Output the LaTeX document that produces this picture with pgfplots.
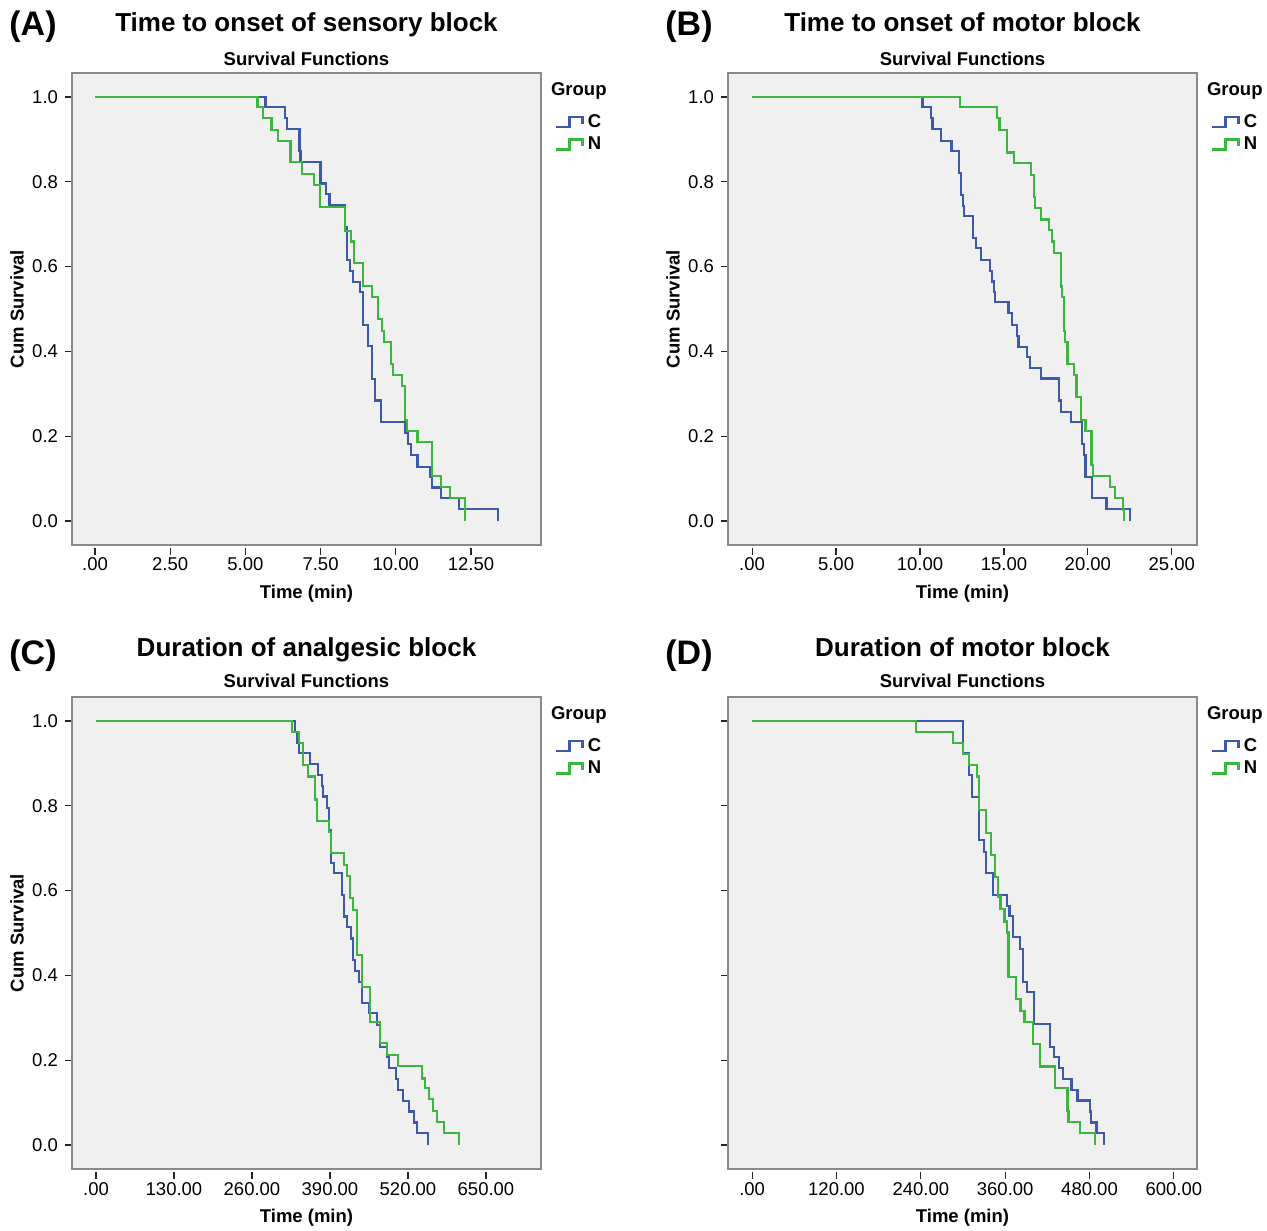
\documentclass[border=0pt]{standalone}
\usepackage{fontspec}
\setmainfont{Liberation Sans}
\usepackage{pgfplots}
\pgfplotsset{compat=1.18}

\definecolor{cBlue}{HTML}{3E58AC}
\definecolor{cGreen}{HTML}{3DB63D}
\definecolor{bgCol}{HTML}{F0F0F0}
\definecolor{frameCol}{HTML}{8A8A8A}

\newcommand\tickfont{\fontsize{9.25}{11}\selectfont}
\newcommand\labfont{\fontsize{9.25}{11}\selectfont\bfseries}
\newcommand\titlefont{\fontsize{13}{15}\selectfont\bfseries}
\newcommand\panelfont{\fontsize{17}{19}\selectfont\bfseries}

% one SPSS-like survival panel
\pgfplotsset{
    km/.style={
        scale only axis, width=234.5pt, height=236pt, anchor=north west,
        clip=false,
        axis background/.style={fill=bgCol},
        axis line style={draw=frameCol, line width=0.8pt},
        ymin=-0.0566, ymax=1.0566,
        ytick={0,0.2,0.4,0.6,0.8,1},
        yticklabels={0.0,0.2,0.4,0.6,0.8,1.0},
        tick align=outside, xtick pos=bottom, ytick pos=left,
        major tick length=3.5pt,
        tick style={black!85, line width=0.6pt},
        xtick style={yshift=-1.5pt},
        tick label style={font=\tickfont},
        xticklabel style={yshift=0.5pt},
        label style={font=\labfont},
        xlabel={Time (min)},
        xlabel style={at={(rel axis cs:0.5,0)}, anchor=center, yshift=-24.5pt},
        ylabel style={at={(rel axis cs:0,0.5)}, anchor=center, yshift=27.5pt},
        legend style={at={(1,1)}, anchor=north west, xshift=3.5pt, yshift=-18pt,
            draw=none, fill=none, font=\labfont, row sep=2pt, column sep=1.5pt,
            nodes={inner sep=0.6pt}},
        legend cell align=left,
        legend image code/.code={
            \draw[#1] (0pt,-2.4pt) -- (7pt,-2.4pt) -- (7pt,2.6pt) -- (13.5pt,2.6pt) -- (13.5pt,-0.8pt);
        },
        every axis plot/.append style={const plot, line width=1.1pt, mark=none},
    },
    cplot/.style={draw=cBlue},
    nplot/.style={draw=cGreen},
}
\tikzset{
    ttl/.style={font=\titlefont, anchor=base},
    sub/.style={font=\labfont, anchor=base},
    grp/.style={font=\labfont, anchor=west, xshift=1.5pt, yshift=-9pt},
}

\begin{document}
\begin{tikzpicture}
\useasboundingbox (0,0) rectangle (633.5pt,-615pt);

% (A) onset of sensory block
\begin{axis}[km, at={(36pt,-36.5pt)},
    xmin=-0.765, xmax=14.83,
    xtick={0,2.5,5,7.5,10,12.5},
    xticklabels={.00,2.50,5.00,7.50,10.00,12.50},
    ylabel={Cum Survival}]
\addplot[cplot] coordinates {
(0,1)(5.67,0.976)(6.32,0.950)(6.39,0.924)(6.80,0.873)(6.83,0.847)(7.50,0.796)
(7.69,0.771)(7.80,0.744)(8.31,0.694)(8.39,0.616)(8.48,0.590)(8.59,0.564)
(8.80,0.541)(8.91,0.462)(9.09,0.413)(9.22,0.334)(9.31,0.284)(9.52,0.233)
(10.30,0.207)(10.41,0.181)(10.52,0.156)(10.72,0.128)(11.13,0.104)(11.21,0.079)
(11.51,0.054)(12.10,0.028)(13.41,0)};
\addlegendentry{C}
\addplot[nplot] coordinates {
(0,1)(5.40,0.976)(5.59,0.950)(5.87,0.922)(6.09,0.897)(6.50,0.846)(6.89,0.819)
(7.28,0.792)(7.48,0.741)(8.31,0.684)(8.50,0.659)(8.61,0.608)(8.91,0.554)
(9.20,0.528)(9.42,0.476)(9.53,0.449)(9.61,0.423)(9.83,0.370)(9.91,0.344)
(10.22,0.318)(10.31,0.238)(10.38,0.213)(10.72,0.187)(11.21,0.107)(11.51,0.081)
(11.80,0.055)(12.30,0)};
\addlegendentry{N}
\node[grp] at (rel axis cs:1,1) {Group};
\node[ttl] at (rel axis cs:0.5,1) [yshift=20.5pt] {Time to onset of sensory block};
\node[sub] at (rel axis cs:0.5,1) [yshift=3.7pt] {Survival Functions};
\node[font=\panelfont] at (rel axis cs:0,1) [xshift=-19.5pt, yshift=23pt] {(A)};
\end{axis}

% (B) onset of motor block
\begin{axis}[km, at={(364pt,-36.5pt)},
    xmin=-1.435, xmax=26.5,
    xtick={0,5,10,15,20,25},
    xticklabels={.00,5.00,10.00,15.00,20.00,25.00},
    ylabel={Cum Survival}]
\addplot[cplot] coordinates {
(0,1)(10.15,0.976)(10.65,0.950)(10.75,0.924)(11.24,0.897)(11.88,0.873)
(12.34,0.820)(12.44,0.769)(12.54,0.743)(12.64,0.719)(13.14,0.668)(13.34,0.643)
(13.64,0.616)(14.19,0.590)(14.27,0.565)(14.39,0.540)(14.47,0.516)(15.27,0.490)
(15.47,0.463)(15.79,0.436)(15.87,0.411)(16.39,0.386)(16.53,0.360)(17.19,0.336)
(18.26,0.284)(18.38,0.258)(18.98,0.233)(19.66,0.182)(19.78,0.156)(19.86,0.103)
(20.26,0.054)(21.11,0.028)(22.51,0)};
\addlegendentry{C}
\addplot[nplot] coordinates {
(0,1)(12.40,0.976)(14.59,0.950)(14.73,0.922)(15.19,0.869)(15.59,0.844)
(16.59,0.816)(16.79,0.765)(16.87,0.739)(17.22,0.711)(17.66,0.686)(17.86,0.659)
(17.98,0.633)(18.38,0.553)(18.48,0.528)(18.58,0.449)(18.66,0.423)(18.78,0.370)
(19.18,0.344)(19.32,0.292)(19.58,0.238)(19.86,0.213)(20.22,0.132)(20.32,0.106)
(21.31,0.081)(21.61,0.055)(22.11,0.026)(22.17,0)};
\addlegendentry{N}
\node[grp] at (rel axis cs:1,1) {Group};
\node[ttl] at (rel axis cs:0.5,1) [yshift=20.5pt] {Time to onset of motor block};
\node[sub] at (rel axis cs:0.5,1) [yshift=3.7pt] {Survival Functions};
\node[font=\panelfont] at (rel axis cs:0,1) [xshift=-19.5pt, yshift=23pt] {(B)};
\end{axis}

% (C) duration of analgesic block
\begin{axis}[km, at={(36pt,-348.5pt)},
    xmin=-40, xmax=741.7,
    xtick={0,130,260,390,520,650},
    xticklabels={.00,130.00,260.00,390.00,520.00,650.00},
    ylabel={Cum Survival}]
\addplot[cplot] coordinates {
(0,1)(331.7,0.975)(335,0.949)(338,0.924)(356.7,0.899)(370.6,0.873)(376.1,0.847)
(378.9,0.822)(385.6,0.794)(388.9,0.743)(391.1,0.666)(396.7,0.642)(409.4,0.590)
(413.3,0.539)(418.9,0.515)(424.4,0.487)(427.8,0.436)(431.7,0.411)(438.9,0.385)
(442.8,0.334)(455.6,0.311)(468.9,0.283)(473.3,0.232)(484.4,0.207)(488.9,0.181)
(500,0.155)(503.9,0.130)(512.2,0.104)(522.2,0.079)(530,0.053)(534.4,0.028)
(552.8,0)};
\addlegendentry{C}
\addplot[nplot] coordinates {
(0,1)(326.1,0.975)(338.9,0.949)(344.4,0.896)(353.9,0.869)(365,0.815)
(367.8,0.765)(388.9,0.739)(391.1,0.688)(413.3,0.660)(418.9,0.634)(423.3,0.582)
(427.8,0.554)(435.6,0.448)(443,0.372)(456.7,0.291)(473.3,0.240)(484.4,0.212)
(503.9,0.186)(542.8,0.157)(548.3,0.134)(555.6,0.108)(561.1,0.081)(567.8,0.055)
(580,0.028)(605.6,0)};
\addlegendentry{N}
\node[grp] at (rel axis cs:1,1) {Group};
\node[ttl] at (rel axis cs:0.5,1) [yshift=20.5pt] {Duration of analgesic block};
\node[sub] at (rel axis cs:0.5,1) [yshift=5pt] {Survival Functions};
\node[font=\panelfont] at (rel axis cs:0,1) [xshift=-19.5pt, yshift=20.5pt] {(C)};
\end{axis}

% (D) duration of motor block
\begin{axis}[km, at={(364pt,-348.5pt)},
    xmin=-34.3, xmax=632.9,
    xtick={0,120,240,360,480,600},
    xticklabels={.00,120.00,240.00,360.00,480.00,600.00},
    yticklabels={}]
\addplot[cplot] coordinates {
(0,1)(299.5,0.924)(309,0.873)(312.9,0.820)(323.3,0.719)(329.5,0.692)
(332.9,0.642)(342.4,0.590)(362.9,0.564)(366.2,0.540)(371,0.490)(381.4,0.462)
(385.2,0.385)(391.4,0.360)(400.9,0.285)(423.3,0.232)(429.5,0.207)(436.2,0.181)
(442.4,0.155)(454.3,0.130)(462.9,0.105)(480.5,0.079)(481.9,0.053)(490,0.028)
(500.5,0)};
\addlegendentry{C}
\addplot[nplot] coordinates {
(0,1)(232.9,0.975)(285.2,0.949)(299.5,0.922)(309,0.896)(320,0.869)(323.3,0.790)
(332.9,0.736)(340,0.684)(345.7,0.633)(349.5,0.586)(353.3,0.556)(359,0.527)
(362.9,0.501)(364.8,0.397)(375.7,0.344)(381.9,0.317)(387.6,0.291)(399.5,0.239)
(409,0.185)(431.4,0.134)(448.6,0.081)(450,0.055)(466.2,0.028)(487.6,0)};
\addlegendentry{N}
\node[grp] at (rel axis cs:1,1) {Group};
\node[ttl] at (rel axis cs:0.5,1) [yshift=20.5pt] {Duration of motor block};
\node[sub] at (rel axis cs:0.5,1) [yshift=5pt] {Survival Functions};
\node[font=\panelfont] at (rel axis cs:0,1) [xshift=-19.5pt, yshift=20.5pt] {(D)};
\end{axis}
\end{tikzpicture}
\end{document}
